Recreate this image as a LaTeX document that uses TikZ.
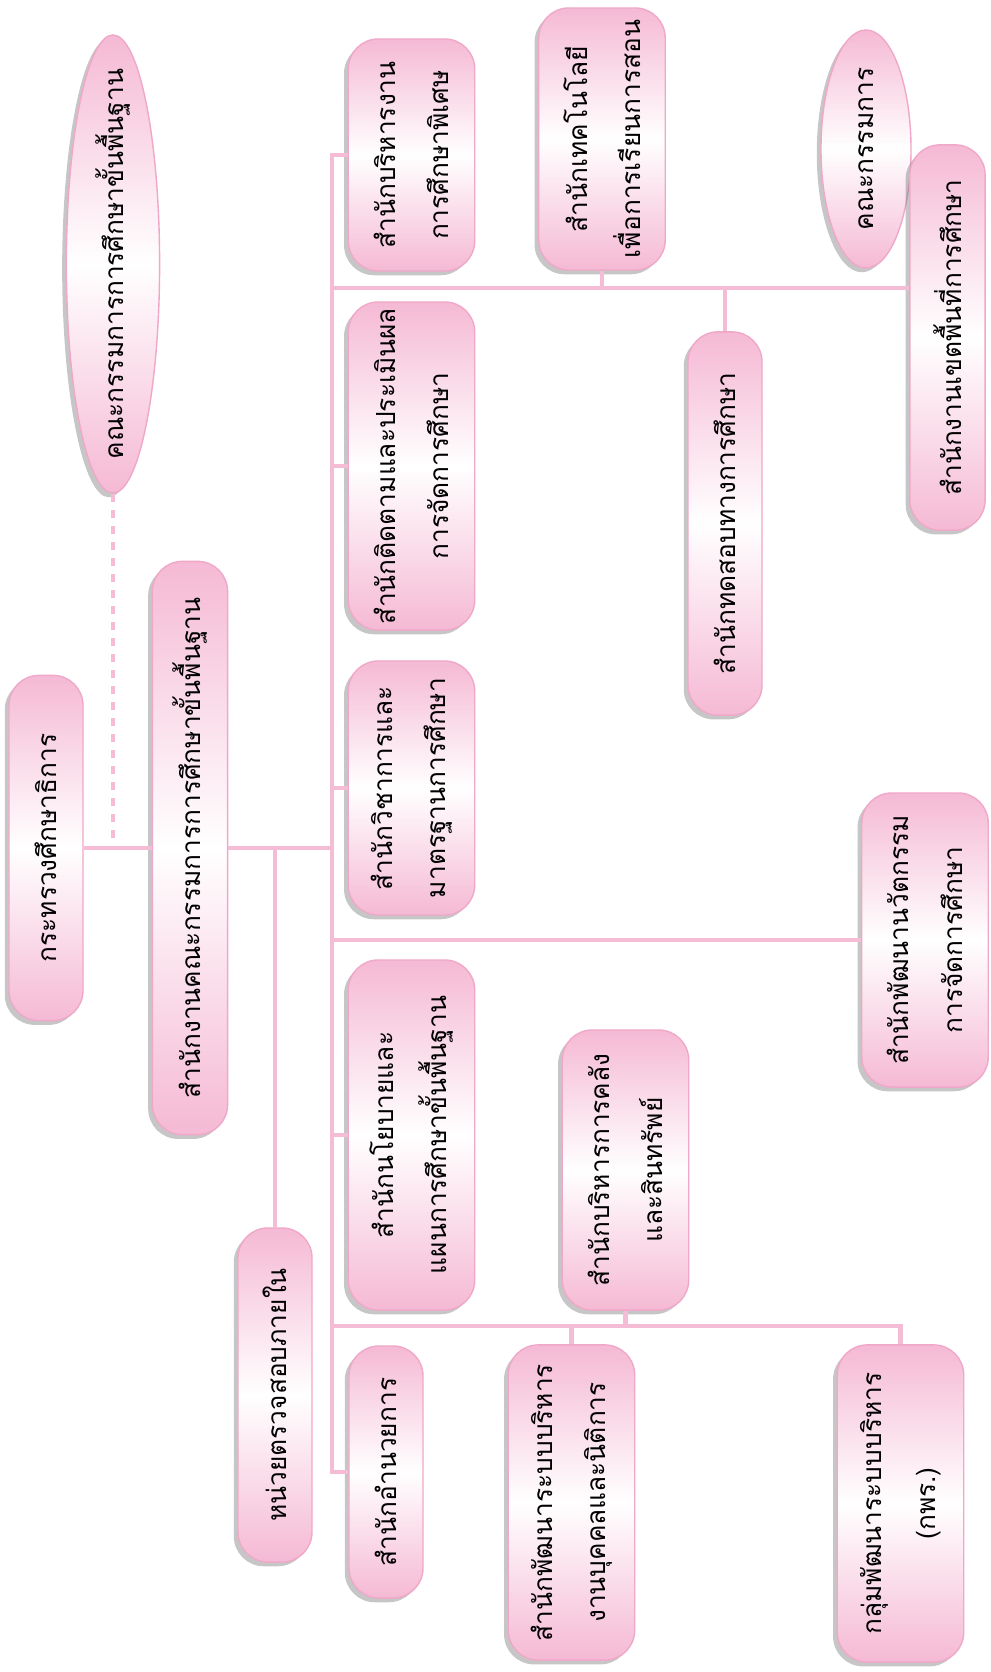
\documentclass[tikz,border=0pt]{standalone}
\usepackage{fontspec}
\newfontfamily\thaifont[Script=Thai]{Loma}
\usetikzlibrary{positioning,shapes.geometric,shadows}

\definecolor{boxpink}{RGB}{245,185,212}
\definecolor{edgepink}{RGB}{240,168,200}
\definecolor{linepink}{RGB}{245,188,214}

\tikzset{
	unit/.style={rotate=90, draw=edgepink, line width=1pt, rounded corners=0.75cm,
		top color=boxpink, bottom color=boxpink, middle color=white,
		drop shadow={shadow xshift=-3pt, shadow yshift=-3pt, opacity=0.45},
		align=center, inner sep=0pt, font=\thaifont\fontsize{18.7}{38}\selectfont},
	narrow/.style={unit, minimum height=1.85cm},
	wide/.style={unit, minimum height=3.16cm},
	oval/.style={unit, ellipse, sharp corners},
	link/.style={draw=linepink, line width=3.4pt},
	dotlink/.style={link, dash pattern=on 5.7pt off 5.7pt}
}

\begin{document}
\begin{tikzpicture}[x=0.025cm, y=-0.025cm]
	\useasboundingbox (0,0) rectangle (991,1672);
	
	% top of the chart
	\node[narrow, minimum width=8.63cm] (moe) at (46,848) {กระทรวงศึกษาธิการ};
	\node[narrow, minimum width=14.33cm, minimum height=1.88cm] (obec) at (190,848) {สำนักงานคณะกรรมการการศึกษาขั้นพื้นฐาน};
	\node[oval, minimum width=11.45cm, minimum height=2.33cm] (board) at (113,264) {\makebox[0pt]{คณะกรรมการการศึกษาขั้นพื้นฐาน}};
	\node[narrow, minimum width=8.35cm] (audit) at (275,1395) {หน่วยตรวจสอบภายใน};
	
	% offices
	\node[wide, minimum width=5.8cm] (spec) at (411.5,155) {สำนักบริหารงาน\\การศึกษาพิเศษ};
	\node[wide, minimum width=8.2cm] (eval) at (411.5,466) {สำนักติดตามและประเมินผล\\การจัดการศึกษา};
	\node[wide, minimum width=6.35cm] (acad) at (411.5,788) {สำนักวิชาการและ\\มาตรฐานการศึกษา};
	\node[wide, minimum width=8.75cm] (policy) at (411.5,1135) {สำนักนโยบายและ\\แผนการศึกษาขั้นพื้นฐาน};
	\node[narrow, minimum width=6.3cm] (admin) at (386,1472) {สำนักอำนวยการ};
	
	\node[wide, minimum width=6.55cm] (tech) at (602,139) {สำนักเทคโนโลยี\\เพื่อการเรียนการสอน};
	\node[narrow, minimum width=9.58cm] (test) at (725,523.5) {สำนักทดสอบทางการศึกษา};
	\node[oval, minimum width=5.95cm, minimum height=2.25cm] (council) at (866,149) {\makebox[0pt]{คณะกรรมการ}};
	\node[narrow, minimum width=9.63cm, minimum height=1.88cm] (area) at (947.5,337.5) {สำนักงานเขตพื้นที่การศึกษา};
	\node[wide, minimum width=7.35cm] (innov) at (925,940) {สำนักพัฒนานวัตกรรม\\การจัดการศึกษา};
	
	\node[wide, minimum width=7cm] (fin) at (625.5,1170) {สำนักบริหารการคลัง\\และสินทรัพย์};
	\node[wide, minimum width=7.88cm] (hr) at (571.5,1502.5) {สำนักพัฒนาระบบบริหาร\\งานบุคคลและนิติการ};
	\node[wide, minimum width=7.93cm] (opdc) at (900.5,1503.5) {กลุ่มพัฒนาระบบบริหาร\\(กพร.)};
	
	% connectors
	\coordinate (trunk) at (332,848);
	\draw[link] (moe) -- (obec);
	\draw[link] (obec) -- (trunk);
	\draw[dotlink] (board) -- (board |- obec);
	\draw[link] (audit) -- (audit |- obec);
	\draw[link] (spec) -- (spec -| trunk) -- (admin -| trunk) -- (admin);
	\draw[link] (eval) -- (eval -| trunk);
	\draw[link] (acad) -- (acad -| trunk);
	\draw[link] (policy) -- (policy -| trunk);
	\draw[link] (innov) -- (innov -| trunk);
	
	\coordinate (r1) at (332,288);
	\draw[link] (r1) -- (r1 -| area.north); % area is turned, its north faces left
	\draw[link] (tech) -- (tech |- r1);
	\draw[link] (test) -- (test |- r1);
	
	\coordinate (r2) at (332,1326);
	\draw[link] (r2) -- (r2 -| opdc) -- (opdc);
	\draw[link] (fin) -- (fin |- r2);
	\draw[link] (hr) -- (hr |- r2);
\end{tikzpicture}
\end{document}
